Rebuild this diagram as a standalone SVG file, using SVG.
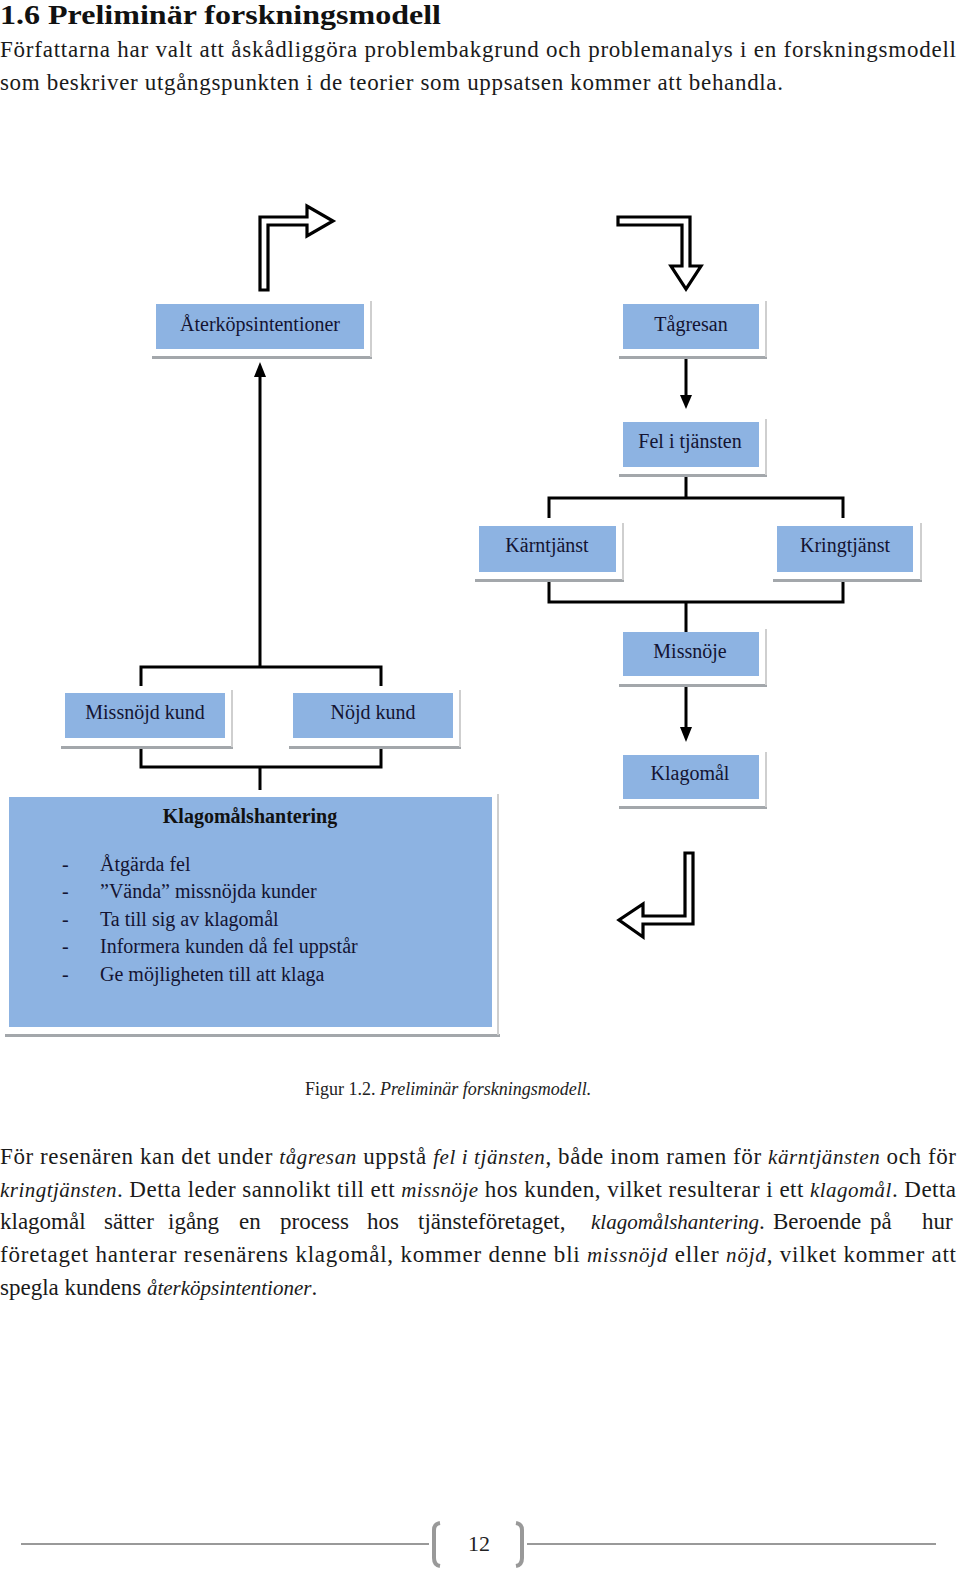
<svg xmlns="http://www.w3.org/2000/svg" width="960" height="1570" viewBox="0 0 960 1570">
<style>
.box{fill:#8DB3E2}
.sb{fill:#A3A7AB}
.sr{stroke:#CFCFCF;stroke-width:2}
.lbl{font-family:"Liberation Serif",serif;font-size:20px;fill:#141432;text-anchor:middle}
.ln{stroke:#000;stroke-width:3;fill:none}
.blk{stroke:#000;stroke-width:3.2;fill:#fff;stroke-linejoin:miter}
.t{font-family:"Liberation Serif",serif;font-size:23px;fill:#1a1a1a}
.i{font-style:italic;font-size:21px}
.li{font-family:"Liberation Serif",serif;font-size:20px;fill:#141432}
</style>
<rect width="960" height="1570" fill="#fff"/>
<text x="0" y="24" font-family="Liberation Serif,serif" font-weight="bold" font-size="28" fill="#111" textLength="441" lengthAdjust="spacingAndGlyphs">1.6 Preliminär forskningsmodell</text>
<text class="t" x="0" y="57" textLength="956" lengthAdjust="spacing">Författarna har valt att åskådliggöra problembakgrund och problemanalys i en forskningsmodell</text>
<text class="t" x="0" y="90" textLength="783" lengthAdjust="spacing">som beskriver utgångspunkten i de teorier som uppsatsen kommer att behandla.</text>

<g id="blockarrows">
<polygon class="blk" points="260,290 260,217 307,217 307,206 333,221 307,236 307,225 268,225 268,290"/>
<polygon class="blk" points="618,217 690,217 690,266 701,266 686,289 671,266 682,266 682,225 618,225"/>
<polygon class="blk" points="693,853 693,924 643,924 643,937 619,920 643,904 643,916 685,916 685,853"/>
</g>

<g id="connectors">
<path class="ln" d="M260,376 V667 M141,686 V667 H381 V686"/>
<polygon points="254,377 266,377 260,362" fill="#000"/>
<path class="ln" d="M141,748 V767 H381 V748 M260,767 V790"/>
<path class="ln" d="M686,358 V396"/>
<polygon points="680,395 692,395 686,409" fill="#000"/>
<path class="ln" d="M686,476 V498 M549,518 V498 H843 V518"/>
<path class="ln" d="M549,581 V602 H843 V581 M686,602 V632"/>
<path class="ln" d="M686,687 V728"/>
<polygon points="680,727 692,727 686,742" fill="#000"/>
</g>

<g id="n-aterkop">
<rect class="sb" x="152" y="356" width="220" height="3"/><line class="sr" x1="371" y1="301" x2="371" y2="357"/>
<rect class="box" x="156" y="304" width="208" height="45"/>
<text class="lbl" x="260" y="331">Återköpsintentioner</text>
</g>
<g id="n-tagresan">
<rect class="sb" x="619" y="356" width="148" height="3"/><line class="sr" x1="766" y1="301" x2="766" y2="357"/>
<rect class="box" x="623" y="304" width="136" height="45"/>
<text class="lbl" x="691" y="331">Tågresan</text>
</g>
<g id="n-fel">
<rect class="sb" x="619" y="474" width="148" height="3"/><line class="sr" x1="766" y1="419" x2="766" y2="475"/>
<rect class="box" x="623" y="422" width="136" height="45"/>
<text class="lbl" x="690" y="448">Fel i tjänsten</text>
</g>
<g id="n-karn">
<rect class="sb" x="475" y="579" width="149" height="3"/><line class="sr" x1="623" y1="523" x2="623" y2="580"/>
<rect class="box" x="479" y="526" width="137" height="46"/>
<text class="lbl" x="547" y="552">Kärntjänst</text>
</g>
<g id="n-kring">
<rect class="sb" x="773" y="579" width="149" height="3"/><line class="sr" x1="921" y1="523" x2="921" y2="580"/>
<rect class="box" x="777" y="526" width="136" height="46"/>
<text class="lbl" x="845" y="552">Kringtjänst</text>
</g>
<g id="n-missnoje">
<rect class="sb" x="619" y="684" width="148" height="3"/><line class="sr" x1="766" y1="629" x2="766" y2="685"/>
<rect class="box" x="623" y="632" width="136" height="44"/>
<text class="lbl" x="690" y="658">Missnöje</text>
</g>
<g id="n-klagomal">
<rect class="sb" x="619" y="806" width="148" height="3"/><line class="sr" x1="766" y1="752" x2="766" y2="807"/>
<rect class="box" x="623" y="755" width="136" height="44"/>
<text class="lbl" x="690" y="780">Klagomål</text>
</g>
<g id="n-missnojdkund">
<rect class="sb" x="61" y="746" width="172" height="3"/><line class="sr" x1="232" y1="690" x2="232" y2="747"/>
<rect class="box" x="65" y="693" width="160" height="45"/>
<text class="lbl" x="145" y="719">Missnöjd kund</text>
</g>
<g id="n-nojdkund">
<rect class="sb" x="289" y="746" width="172" height="3"/><line class="sr" x1="460" y1="690" x2="460" y2="747"/>
<rect class="box" x="293" y="693" width="160" height="45"/>
<text class="lbl" x="373" y="719">Nöjd kund</text>
</g>
<g id="n-klagomalshantering">
<rect class="sb" x="5" y="1034" width="495" height="3"/><line class="sr" x1="498" y1="794" x2="498" y2="1035"/>
<rect class="box" x="9" y="797" width="483" height="230"/>
<text x="250" y="823" font-family="Liberation Serif,serif" font-weight="bold" font-size="20" fill="#111" text-anchor="middle">Klagomålshantering</text>
<text class="li" x="62" y="871">-</text><text class="li" x="100" y="871">Åtgärda fel</text>
<text class="li" x="62" y="898">-</text><text class="li" x="100" y="898">”Vända” missnöjda kunder</text>
<text class="li" x="62" y="926">-</text><text class="li" x="100" y="926">Ta till sig av klagomål</text>
<text class="li" x="62" y="953">-</text><text class="li" x="100" y="953">Informera kunden då fel uppstår</text>
<text class="li" x="62" y="981">-</text><text class="li" x="100" y="981">Ge möjligheten till att klaga</text>
</g>

<text x="305" y="1095" font-family="Liberation Serif,serif" font-size="18" fill="#222">Figur 1.2. <tspan font-style="italic">Preliminär forskningsmodell.</tspan></text>

<text class="t" x="0" y="1164" textLength="956" lengthAdjust="spacing">För resenären kan det under <tspan class="i">tågresan</tspan> uppstå <tspan class="i">fel i tjänsten</tspan>, både inom ramen för <tspan class="i">kärntjänsten</tspan> och för</text>
<text class="t" x="0" y="1197" textLength="956" lengthAdjust="spacing"><tspan class="i">kringtjänsten</tspan>. Detta leder sannolikt till ett <tspan class="i">missnöje</tspan> hos kunden, vilket resulterar i ett <tspan class="i">klagomål</tspan>. Detta</text>
<text class="t" y="1229"><tspan x="0">klagomål</tspan><tspan x="104">sätter</tspan><tspan x="168">igång</tspan><tspan x="239">en</tspan><tspan x="280">process</tspan><tspan x="367">hos</tspan><tspan x="418">tjänsteföretaget,</tspan><tspan x="591" class="i">klagomålshantering</tspan><tspan>.</tspan><tspan x="773">Beroende</tspan><tspan x="870">på</tspan><tspan x="922">hur</tspan></text>
<text class="t" x="0" y="1262" textLength="956" lengthAdjust="spacing">företaget hanterar resenärens klagomål, kommer denne bli <tspan class="i">missnöjd</tspan> eller <tspan class="i">nöjd</tspan>, vilket kommer att</text>
<text class="t" x="0" y="1295">spegla kundens <tspan class="i">återköpsintentioner</tspan>.</text>

<g id="footer">
<line x1="21" y1="1544" x2="429" y2="1544" stroke="#999" stroke-width="2"/>
<line x1="527" y1="1544" x2="936" y2="1544" stroke="#999" stroke-width="2"/>
<path d="M440,1523 Q434,1524 434,1530 V1558 Q434,1565 440,1566" stroke="#999" stroke-width="4" fill="none"/>
<path d="M516,1523 Q522,1524 522,1530 V1558 Q522,1565 516,1566" stroke="#999" stroke-width="4" fill="none"/>
<text x="479" y="1551" font-family="Liberation Serif,serif" font-size="22" fill="#222" text-anchor="middle">12</text>
</g>
</svg>
